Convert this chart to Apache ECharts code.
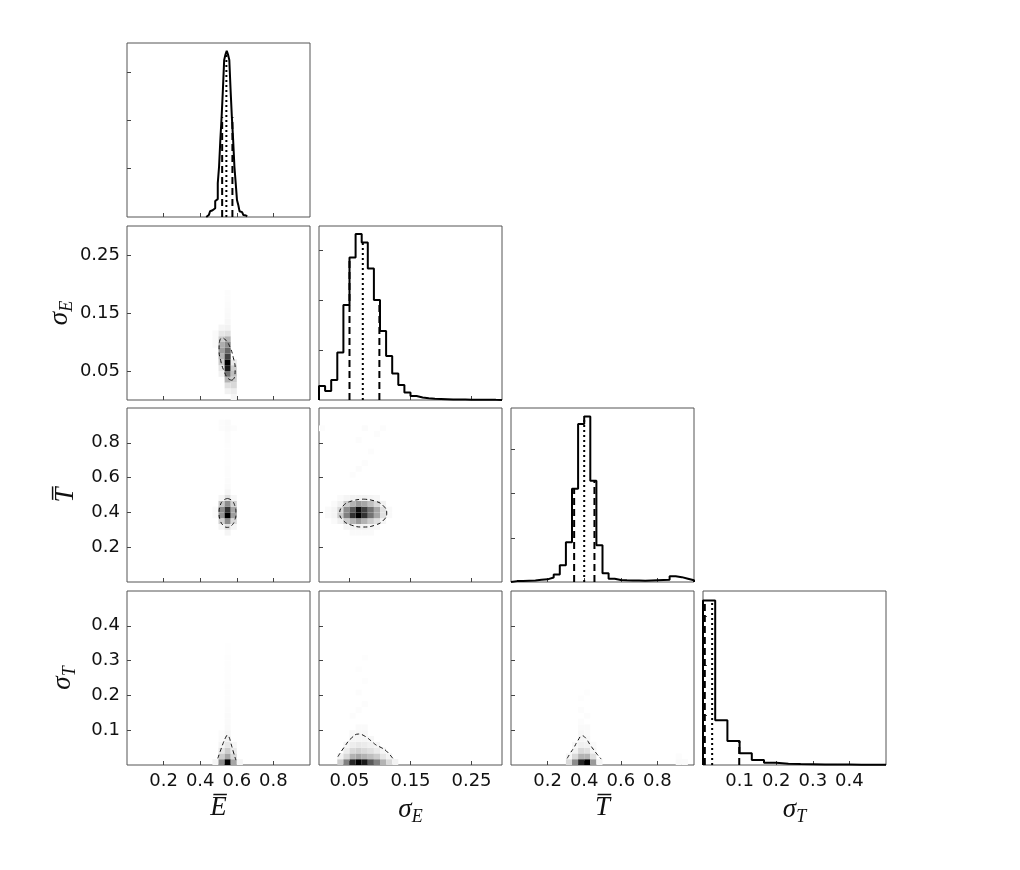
<!DOCTYPE html>
<html>
<head>
<meta charset="utf-8">
<script src="https://cdn.jsdelivr.net/npm/echarts@6/dist/echarts.min.js"></script>
<style>
  html, body { margin: 0; background: #fff; }
  #chart { width: 1020px; height: 870px; }
</style>
</head>
<body>
<div id="chart"></div>
<script>
/* corner plot: Ebar, sigma_E, Tbar, sigma_T */

// ---- 1D histograms (bin start, bin width, heights) ----
var eBarStart = 0.433, eBarWidth = 0.007;
var eBarHist = [0.2, 0.4, 0.5, 1.2, 1.4, 1.5, 1.8, 3.3, 3.7, 7.0, 10.4, 15.9, 20.7, 26.3, 32.5,
                33.6, 34.4, 33.6,
                32.5, 26.3, 20.7, 15.9, 10.4, 7.0, 3.5, 2.5, 1.2, 1.0, 0.8, 0.4, 0.3, 0.1];
var sigEStart = 0, sigEWidth = 0.01;
var sigEHist = [2.8, 1.8, 4.0, 9.5, 19, 28.5, 33.2, 31.5, 26.3, 20, 13.8, 8.8, 5.3, 3.0, 1.5,
                0.8, 0.5, 0.35, 0.25, 0.2, 0.15, 0.1, 0.1, 0.1, 0.05, 0.05, 0.05, 0.05, 0.03, 0.02];
var tBarStart = 0, tBarWidth = 1 / 30;
var tBarHist = [0.2, 0.25, 0.3, 0.35, 0.5, 0.6, 1.0, 1.7, 3.8, 9.0, 21.1, 35.8, 37.5, 22.9, 8.3,
                2.0, 0.75, 0.45, 0.38, 0.35, 0.35, 0.3, 0.35, 0.4, 0.45, 0.5, 1.3, 1.1, 0.75, 0.4];
var sigTStart = 0, sigTWidth = 0.5 / 15;
var sigTHist = [33.1, 9.0, 4.83, 2.35, 1.0, 0.46, 0.26, 0.2, 0.16, 0.12, 0.1, 0.08, 0.06, 0.04, 0.03];

// quantiles [16%, 50%, 84%]
var eBarQuant = [0.520, 0.543, 0.576];
var sigEQuant = [0.050, 0.0718, 0.099];
var tBarQuant = [0.345, 0.400, 0.456];
var sigTQuant = [0.005, 0.025, 0.099];

// ---- 2D histograms: [xBin, yBin, density 0..1], 30 x 30 bins over the axis ranges ----
var cellsEbarSigE = [
  [14, 9, 0.02], [14, 10, 0.02], [14, 11, 0.02],
  [15, 4, 0.05], [15, 5, 0.1], [15, 6, 0.2], [15, 7, 0.3], [15, 8, 0.38], [15, 9, 0.32], [15, 10, 0.2], [15, 11, 0.1], [15, 12, 0.04],
  [16, 1, 0.05], [16, 2, 0.12], [16, 3, 0.3], [16, 4, 0.55], [16, 5, 0.9], [16, 6, 1.0], [16, 7, 0.75], [16, 8, 0.6], [16, 9, 0.45],
  [16, 10, 0.3], [16, 11, 0.12], [16, 12, 0.05], [16, 13, 0.03], [16, 14, 0.025], [16, 15, 0.02], [16, 16, 0.015], [16, 17, 0.012], [16, 18, 0.01],
  [17, 0, 0.04], [17, 1, 0.07], [17, 2, 0.15], [17, 3, 0.2], [17, 4, 0.25], [17, 5, 0.2], [17, 6, 0.08]
];
var cellsEbarTbar = [
  [14, 11, 0.02], [14, 12, 0.02],
  [15, 9, 0.04], [15, 10, 0.18], [15, 11, 0.42], [15, 12, 0.45], [15, 13, 0.22], [15, 14, 0.04], [15, 26, 0.012], [15, 27, 0.01],
  [16, 8, 0.04], [16, 9, 0.12], [16, 10, 0.45], [16, 11, 1.0], [16, 12, 0.8], [16, 13, 0.45], [16, 14, 0.12], [16, 15, 0.04],
  [16, 16, 0.02], [16, 17, 0.015], [16, 18, 0.01], [16, 19, 0.01], [16, 20, 0.008], [16, 21, 0.008], [16, 22, 0.008],
  [16, 23, 0.008], [16, 24, 0.01], [16, 25, 0.012], [16, 26, 0.02], [16, 27, 0.018],
  [17, 9, 0.04], [17, 10, 0.15], [17, 11, 0.38], [17, 12, 0.35], [17, 13, 0.18], [17, 14, 0.03], [17, 26, 0.01]
];
var cellsSigETbar = [
  [1, 11, 0.02], [1, 12, 0.02], [2, 10, 0.02], [2, 11, 0.04], [2, 12, 0.04], [2, 13, 0.02],
  [3, 10, 0.06], [3, 11, 0.2], [3, 12, 0.15], [3, 13, 0.06], [3, 14, 0.02],
  [4, 9, 0.04], [4, 10, 0.2], [4, 11, 0.5], [4, 12, 0.45], [4, 13, 0.2], [4, 14, 0.04],
  [5, 8, 0.02], [5, 9, 0.05], [5, 10, 0.3], [5, 11, 0.8], [5, 12, 0.65], [5, 13, 0.3], [5, 14, 0.05],
  [6, 8, 0.02], [6, 9, 0.05], [6, 10, 0.4], [6, 11, 1.0], [6, 12, 0.95], [6, 13, 0.4], [6, 14, 0.05],
  [7, 8, 0.02], [7, 9, 0.05], [7, 10, 0.3], [7, 11, 0.8], [7, 12, 0.75], [7, 13, 0.35], [7, 14, 0.05],
  [8, 8, 0.02], [8, 9, 0.04], [8, 10, 0.2], [8, 11, 0.55], [8, 12, 0.55], [8, 13, 0.25], [8, 14, 0.04],
  [9, 9, 0.03], [9, 10, 0.12], [9, 11, 0.35], [9, 12, 0.35], [9, 13, 0.15], [9, 14, 0.03],
  [10, 10, 0.04], [10, 11, 0.12], [10, 12, 0.12], [10, 13, 0.05], [11, 11, 0.025], [11, 12, 0.025],
  [5, 18, 0.01], [6, 19, 0.015], [7, 20, 0.01], [8, 22, 0.01], [6, 24, 0.01], [9, 25, 0.01], [7, 26, 0.015], [10, 26, 0.01], [0, 26, 0.012]
];
var cellsEbarSigT = [
  [14, 0, 0.04], [15, 0, 0.45], [16, 0, 1.0], [17, 0, 0.35], [18, 0, 0.04],
  [15, 1, 0.2], [16, 1, 0.35], [17, 1, 0.15],
  [15, 2, 0.1], [16, 2, 0.2], [17, 2, 0.08],
  [15, 3, 0.04], [16, 3, 0.1], [17, 3, 0.03],
  [15, 4, 0.02], [16, 4, 0.06], [15, 5, 0.015], [16, 5, 0.04],
  [16, 6, 0.025], [16, 7, 0.02], [16, 8, 0.018], [16, 9, 0.015], [16, 10, 0.012], [16, 11, 0.01], [16, 12, 0.01],
  [16, 13, 0.01], [16, 14, 0.008], [16, 15, 0.008], [16, 16, 0.008], [16, 17, 0.006], [16, 18, 0.006], [16, 19, 0.005], [16, 20, 0.005]
];
var cellsSigESigT = [
  [3, 0, 0.2], [4, 0, 0.5], [5, 0, 0.85], [6, 0, 1.0], [7, 0, 0.9], [8, 0, 0.65], [9, 0, 0.5], [10, 0, 0.3], [11, 0, 0.15], [12, 0, 0.05],
  [3, 1, 0.05], [4, 1, 0.15], [5, 1, 0.3], [6, 1, 0.35], [7, 1, 0.3], [8, 1, 0.25], [9, 1, 0.2], [10, 1, 0.1], [11, 1, 0.05],
  [4, 2, 0.07], [5, 2, 0.15], [6, 2, 0.18], [7, 2, 0.15], [8, 2, 0.12], [9, 2, 0.08], [10, 2, 0.04],
  [4, 3, 0.04], [5, 3, 0.07], [6, 3, 0.09], [7, 3, 0.08], [8, 3, 0.06], [9, 3, 0.04],
  [5, 4, 0.04], [6, 4, 0.04], [7, 4, 0.04], [8, 4, 0.03], [5, 5, 0.03], [6, 5, 0.03], [7, 5, 0.03], [6, 6, 0.02], [7, 6, 0.02],
  [5, 8, 0.01], [6, 9, 0.012], [7, 10, 0.01], [6, 12, 0.01], [7, 14, 0.008], [6, 16, 0.008], [7, 18, 0.006]
];
var cellsTbarSigT = [
  [9, 0, 0.15], [10, 0, 0.45], [11, 0, 0.85], [12, 0, 1.0], [13, 0, 0.4], [14, 0, 0.04],
  [9, 1, 0.04], [10, 1, 0.15], [11, 1, 0.3], [12, 1, 0.3], [13, 1, 0.12],
  [10, 2, 0.05], [11, 2, 0.15], [12, 2, 0.12], [13, 2, 0.04],
  [10, 3, 0.03], [11, 3, 0.06], [12, 3, 0.05], [13, 3, 0.02],
  [11, 4, 0.04], [12, 4, 0.03], [11, 5, 0.03], [12, 5, 0.02], [11, 6, 0.02], [12, 6, 0.02],
  [11, 7, 0.012], [12, 8, 0.01], [11, 9, 0.01], [11, 11, 0.008], [12, 12, 0.008],
  [27, 0, 0.025], [28, 0, 0.02], [27, 1, 0.01]
];

// ---- contour lines (data coordinates) ----
var contEbarSigE = [[0.574, 0.034], [0.588, 0.040], [0.591, 0.054], [0.581, 0.073], [0.563, 0.091], [0.540, 0.103],
  [0.520, 0.107], [0.506, 0.101], [0.503, 0.086], [0.512, 0.068], [0.530, 0.050], [0.553, 0.037], [0.574, 0.034]];
var contEbarTbar = [[0.549, 0.480], [0.572, 0.469], [0.589, 0.439], [0.595, 0.397], [0.589, 0.356], [0.572, 0.325],
  [0.549, 0.314], [0.526, 0.325], [0.509, 0.356], [0.503, 0.397], [0.509, 0.439], [0.526, 0.469], [0.549, 0.480]];
var contSigETbar = [[0.0725, 0.476], [0.092, 0.465], [0.106, 0.436], [0.111, 0.396], [0.106, 0.356], [0.092, 0.327],
  [0.0725, 0.316], [0.053, 0.327], [0.039, 0.356], [0.034, 0.396], [0.039, 0.436], [0.053, 0.465], [0.0725, 0.476]];
var contEbarSigT = [[0.496, 0.019], [0.510, 0.040], [0.525, 0.062], [0.540, 0.080], [0.549, 0.086], [0.558, 0.080],
  [0.568, 0.062], [0.580, 0.040], [0.595, 0.014]];
var contSigESigT = [[0.031, 0.024], [0.042, 0.053], [0.053, 0.077], [0.065, 0.089], [0.075, 0.083], [0.085, 0.070],
  [0.094, 0.057], [0.102, 0.050], [0.110, 0.041], [0.121, 0.019]];
var contTbarSigT = [[0.307, 0.019], [0.325, 0.035], [0.344, 0.050], [0.365, 0.070], [0.389, 0.084], [0.410, 0.076],
  [0.430, 0.060], [0.450, 0.045], [0.472, 0.030], [0.493, 0.017]];

// ---- axes ----
var vars = ['Ebar', 'sE', 'Tbar', 'sT'];
var ranges = { Ebar: [0, 1], sE: [0, 0.3], Tbar: [0, 1], sT: [0, 0.5] };
var tickVals = { Ebar: [0.2, 0.4, 0.6, 0.8], sE: [0.05, 0.15, 0.25], Tbar: [0.2, 0.4, 0.6, 0.8], sT: [0.1, 0.2, 0.3, 0.4] };
var histMax = [36, 34.8, 39.4, 35];
var histTicks = [10, 20, 30];

var hists = [
  { start: eBarStart, width: eBarWidth, h: eBarHist, q: eBarQuant },
  { start: sigEStart, width: sigEWidth, h: sigEHist, q: sigEQuant },
  { start: tBarStart, width: tBarWidth, h: tBarHist, q: tBarQuant },
  { start: sigTStart, width: sigTWidth, h: sigTHist, q: sigTQuant }
];
var cells = { '1,0': cellsEbarSigE, '2,0': cellsEbarTbar, '2,1': cellsSigETbar,
              '3,0': cellsEbarSigT, '3,1': cellsSigESigT, '3,2': cellsTbarSigT };
var contours = { '1,0': contEbarSigE, '2,0': contEbarTbar, '2,1': contSigETbar,
                 '3,0': contEbarSigT, '3,1': contSigESigT, '3,2': contTbarSigT };

var colLeft = [127, 319, 511, 703];
var rowTop = [43, 226, 408, 591];
var panelW = 183, panelH = 174;

var serif = 'Liberation Serif';
var titleRich = {
  it: { fontFamily: serif, fontStyle: 'italic', fontSize: 27, color: '#111' },
  sub: { fontFamily: serif, fontStyle: 'italic', fontSize: 18, color: '#111', padding: [14, 0, 0, 0] }
};
var titles = { Ebar: '{it|E\u0305}', sE: '{it|σ}{sub|E}', Tbar: '{it|T\u0305}', sT: '{it|σ}{sub|T}' };

var labelStyle = { fontSize: 18, color: '#111', fontFamily: 'DejaVu Sans', margin: 7 };
var tickStyle = { show: true, inside: true, length: 4, lineStyle: { color: '#444', width: 1 } };

var grids = [], xAxes = [], yAxes = [], series = [];

function histPoints(hd) {
  var pts = [[hd.start, 0]];
  for (var i = 0; i < hd.h.length; i++) {
    pts.push([hd.start + i * hd.width, hd.h[i]]);
  }
  var end = hd.start + hd.h.length * hd.width;
  pts.push([end, hd.h[hd.h.length - 1]]);
  pts.push([end, 0]);
  return pts;
}

function histAt(hd, x) {
  var i = Math.floor((x - hd.start) / hd.width);
  if (i < 0 || i >= hd.h.length) return 0;
  return hd.h[i];
}

function cellSeries(data, xv, yv, k) {
  var bx = (ranges[xv][1] - ranges[xv][0]) / 30;
  var by = (ranges[yv][1] - ranges[yv][0]) / 30;
  return {
    type: 'custom', xAxisIndex: k, yAxisIndex: k, data: data, clip: true, silent: true,
    encode: { x: 0, y: 1 },
    renderItem: function (params, api) {
      var i = api.value(0), j = api.value(1), v = api.value(2);
      var p0 = api.coord([ranges[xv][0] + i * bx, ranges[yv][0] + j * by]);
      var p1 = api.coord([ranges[xv][0] + (i + 1) * bx, ranges[yv][0] + (j + 1) * by]);
      var g = Math.round(255 * (1 - v));
      return {
        type: 'rect',
        shape: { x: p0[0], y: p1[1], width: p1[0] - p0[0], height: p0[1] - p1[1] },
        style: { fill: 'rgb(' + g + ',' + g + ',' + g + ')' }
      };
    }
  };
}

var k = 0;
for (var r = 0; r < 4; r++) {
  for (var c = 0; c <= r; c++) {
    var xv = vars[c];
    grids.push({ left: colLeft[c], top: rowTop[r], width: panelW, height: panelH,
                 show: true, borderColor: '#555', borderWidth: 1 });
    xAxes.push({
      gridIndex: k, type: 'value', min: ranges[xv][0], max: ranges[xv][1],
      axisLine: { show: false }, splitLine: { show: false },
      axisTick: Object.assign({ customValues: tickVals[xv] }, tickStyle),
      axisLabel: Object.assign({ show: r === 3, customValues: tickVals[xv] }, labelStyle),
      name: r === 3 ? titles[xv] : '', nameLocation: 'middle', nameGap: 29,
      nameTextStyle: { rich: titleRich }
    });
    if (r === c) {
      yAxes.push({
        gridIndex: k, type: 'value', min: 0, max: histMax[c],
        axisLine: { show: false }, splitLine: { show: false },
        axisTick: Object.assign({ customValues: histTicks }, tickStyle),
        axisLabel: { show: false }
      });
      var hd = hists[c];
      series.push({
        type: 'line', xAxisIndex: k, yAxisIndex: k, step: 'end', symbol: 'none',
        data: histPoints(hd), lineStyle: { color: '#000', width: 2 }, z: 3
      });
      for (var qi = 0; qi < 3; qi++) {
        var qx = hd.q[qi];
        series.push({
          type: 'line', xAxisIndex: k, yAxisIndex: k, symbol: 'none',
          data: [[qx, 0], [qx, histAt(hd, qx)]],
          lineStyle: { color: '#000', width: 2, type: qi === 1 ? [2, 3] : [7, 4] }, z: 2
        });
      }
    } else {
      var yv = vars[r];
      yAxes.push({
        gridIndex: k, type: 'value', min: ranges[yv][0], max: ranges[yv][1],
        axisLine: { show: false }, splitLine: { show: false },
        axisTick: Object.assign({ customValues: tickVals[yv] }, tickStyle),
        axisLabel: Object.assign({ show: c === 0, customValues: tickVals[yv] }, labelStyle),
        name: c === 0 ? titles[yv] : '', nameLocation: 'middle', nameRotate: 90, nameGap: 48,
        nameTextStyle: { rich: titleRich }
      });
      series.push(cellSeries(cells[r + ',' + c], xv, yv, k));
      series.push({
        type: 'line', xAxisIndex: k, yAxisIndex: k, symbol: 'none', smooth: true,
        data: contours[r + ',' + c], lineStyle: { color: '#111', width: 1, type: [4, 3] }, z: 3
      });
    }
    k++;
  }
}

var chart = echarts.init(document.getElementById('chart'));
chart.setOption({
  animation: false,
  backgroundColor: '#fff',
  grid: grids,
  xAxis: xAxes,
  yAxis: yAxes,
  series: series
});
</script>
</body>
</html>
